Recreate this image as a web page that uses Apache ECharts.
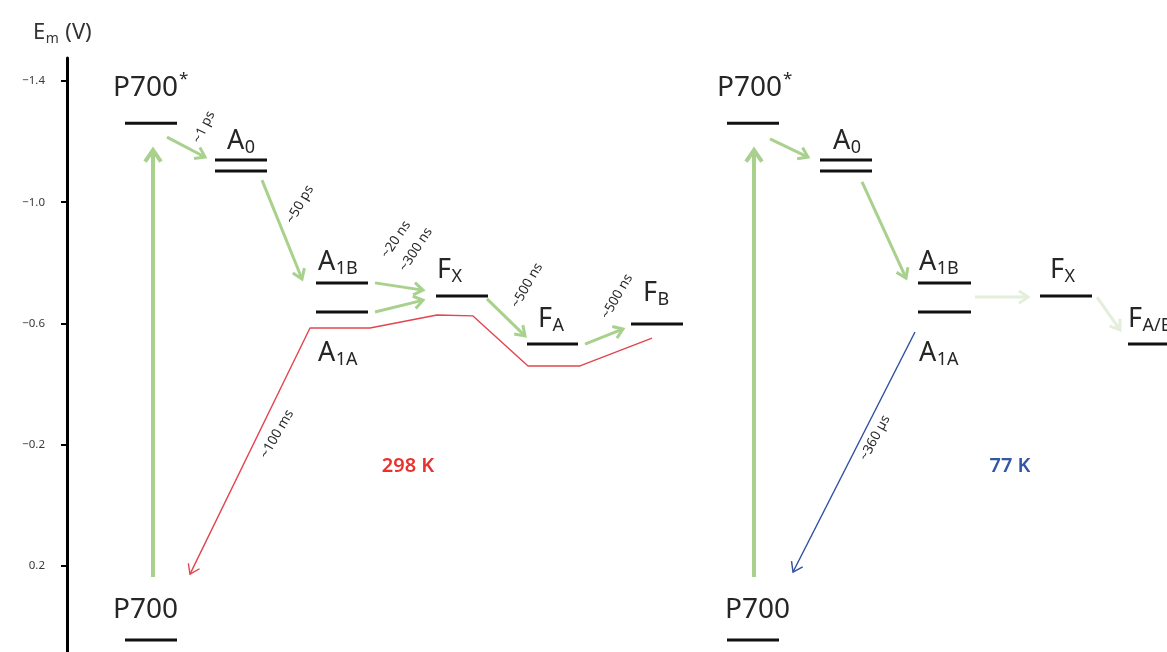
<!DOCTYPE html>
<html>
<head>
<meta charset="utf-8">
<script src="https://cdn.jsdelivr.net/npm/echarts@6/dist/echarts.min.js"></script>
<style>
  html, body { margin: 0; padding: 0; background: #fff; }
  #chart { width: 1167px; height: 652px; }
</style>
</head>
<body>
<div id="chart"></div>
<script>
// ---------- data ----------
// Em axis (V), drawn with negative potentials at the top
const emTicks = [-1.4, -1.0, -0.6, -0.2, 0.2];
const emTickLabels = ['\u22121.4', '\u22121.0', '\u22120.6', '\u22120.2', '0.2'];

// Redox levels: [xStart, xEnd, Em (V)]
const levels298 = [
  [58, 110, -1.261],   // P700*
  [148, 200, -1.139],  // A0
  [148, 200, -1.103],  // A0
  [249, 301, -0.734],  // A1B
  [249, 301, -0.638],  // A1A
  [369, 421, -0.691],  // FX
  [460, 511, -0.532],  // FA
  [564, 616, -0.598],  // FB
  [58, 110, 0.444]     // P700
];
const levelNames298 = [
  ['P700', '', '*'], ['A', '0', ''], null, ['A', '1B', ''], ['A', '1A', ''],
  ['F', 'X', ''], ['F', 'A', ''], ['F', 'B', ''], ['P700', '', '']
];

const levels77 = [
  [660, 712, -1.261],  // P700*
  [753, 805, -1.139],  // A0
  [753, 805, -1.103],  // A0
  [851, 904, -0.734],  // A1B
  [851, 904, -0.638],  // A1A
  [973, 1025, -0.691], // FX
  [1061, 1115, -0.532],// FA/B
  [660, 712, 0.444]    // P700
];
const levelNames77 = [
  ['P700', '', '*'], ['A', '0', ''], null, ['A', '1B', ''], ['A', '1A', ''],
  ['F', 'X', ''], ['F', 'A/B', ''], ['P700', '', '']
];

// Light excitation P700 -> P700*: [x0, Em0, x1, Em1]
const excitation = [
  [86, 0.236, 86, -1.172],
  [687, 0.236, 687, -1.172]
];

// Forward electron transfer steps: [x0, Em0, x1, Em1]
const forward298 = [
  [100, -1.215, 138, -1.149],  // P700* -> A0
  [195, -1.073, 235, -0.747],  // A0 -> A1
  [308, -0.734, 356, -0.710],  // A1B -> FX
  [308, -0.638, 356, -0.677],  // A1A -> FX
  [420, -0.681, 458, -0.559],  // FX -> FA
  [518, -0.532, 556, -0.582]   // FA -> FB
];
const forward77 = [
  [703, -1.209, 741, -1.149],  // P700* -> A0
  [795, -1.067, 839, -0.750]   // A0 -> A1
];
// Steps blocked at 77 K
const blocked77 = [
  [908, -0.687, 961, -0.687],  // A1 -> FX
  [1030, -0.687, 1053, -0.579] // FX -> FA/B
];

// Charge recombination back to P700
const recombination298 = [
  [585, -0.552], [513, -0.460], [461, -0.460], [406, -0.625],
  [370, -0.628], [303, -0.585], [243, -0.585], [123, 0.227]
];
const recombination77 = [[848, -0.572], [726, 0.220]];

// Time constants
const timeLabels = ['~1 ps', '~50 ps', '~20 ns', '~300 ns', '~500 ns', '~500 ns', '~100 ms', '~360 \u00b5s'];

// ---------- styling / layout ----------
const FONT = "'Noto Sans', 'Open Sans', sans-serif";
const GREEN = '#a9d18e';
const GREEN_FADED = '#e3eedb';
const RED = '#e2454f';
const BLUE = '#2f4f9f';
const INK = '#262626';
const MAIN_SIZE = 27, SUB_SIZE = 18, SUP_SIZE = 17;

// label baseline offsets (px) from the left end of each level
const nameOffsets298 = [[-12, -26], [12, -10], null, [2, -12], [2, 50], [1, -17], [11, -16], [12, -22], [-12, -21]];
const nameOffsets77 = [[-10, -26], [13, -10], null, [1, -12], [1, 50], [10, -17], [0, -16], [-2, -21]];

// time label placement: which step, pixel offset from its midpoint, rotation (deg)
const timeLabelPlacement = [
  { step: () => forward298[0], dx: 18, dy: -20, rot: 64 },
  { step: () => forward298[1], dx: 18, dy: -25, rot: 60 },
  { step: () => forward298[2], dx: -3, dy: -47, rot: 56 },
  { step: () => forward298[2], dx: 17, dy: -37, rot: 57 },
  { step: () => forward298[4], dx: 21, dy: -32, rot: 60 },
  { step: () => forward298[5], dx: 13, dy: -40, rot: 60 },
  { step: () => recombination298.slice(-2).flat(), dx: 27, dy: -17, rot: 60 },
  { step: () => recombination77.flat(), dx: 21, dy: -14, rot: 62 }
];

// ---------- drawing helpers ----------
function arrowGroup(p0, p1, color, width, head, headOnly) {
  const ang = Math.atan2(p1[1] - p0[1], p1[0] - p0[0]);
  const spread = Math.PI / 5.2;
  const h1 = [p1[0] - head * Math.cos(ang - spread), p1[1] - head * Math.sin(ang - spread)];
  const h2 = [p1[0] - head * Math.cos(ang + spread), p1[1] - head * Math.sin(ang + spread)];
  const children = [];
  if (!headOnly) {
    const tip = [p1[0] - Math.cos(ang) * width * 0.6, p1[1] - Math.sin(ang) * width * 0.6];
    children.push({ type: 'line', shape: { x1: p0[0], y1: p0[1], x2: tip[0], y2: tip[1] },
      style: { stroke: color, lineWidth: width, lineCap: 'butt' } });
  }
  children.push({ type: 'polyline', shape: { points: [h1, p1, h2] },
    style: { stroke: color, lineWidth: width, fill: null, lineJoin: 'miter', lineCap: 'butt' } });
  return { type: 'group', children };
}

function arrowSeries(data, color, width, head, headOnly) {
  return {
    type: 'custom',
    data: data,
    encode: { x: [0, 2], y: [1, 3] },
    silent: true,
    z: 3,
    renderItem: function (params, api) {
      const p0 = api.coord([api.value(0), api.value(1)]);
      const p1 = api.coord([api.value(2), api.value(3)]);
      return arrowGroup(p0, p1, color, width, head, headOnly);
    }
  };
}

const measureCtx = document.createElement('canvas').getContext('2d');
function textWidth(str, size) {
  measureCtx.font = size + 'px ' + FONT;
  return measureCtx.measureText(str).width;
}
// text placed by its alphabetic baseline
function textAt(str, x, baseline, size, color, extra) {
  return Object.assign({
    type: 'text', x: x, y: baseline - size * 0.33, silent: true, z: 10,
    style: { text: str, fontSize: size, fontFamily: FONT, fill: color, align: 'left', verticalAlign: 'middle' }
  }, extra || {});
}
function nameLabel(parts, x, baseline, mainSize) {
  const [main, sub, sup] = parts;
  const out = [textAt(main, x, baseline, mainSize, INK)];
  const w = textWidth(main, mainSize);
  if (sub) out.push(textAt(sub, x + w + 0.5, baseline + 4, SUB_SIZE, INK));
  if (sup) out.push(textAt(sup, x + w + 1, baseline - 12, SUP_SIZE, INK));
  return out;
}

// ---------- chart ----------
const chart = echarts.init(document.getElementById('chart'), null, { renderer: 'canvas' });

const option = {
  animation: false,
  backgroundColor: '#fff',
  grid: { left: 67, right: 0, top: 58, bottom: 0, containLabel: false, outerBoundsMode: 'none' },
  xAxis: { type: 'value', min: 0, max: 1100, show: false },
  yAxis: {
    type: 'value', inverse: true, min: -1.4759, max: 0.4838,
    axisLine: { show: true, lineStyle: { color: '#000', width: 3 } },
    axisTick: { show: true, inside: false, length: 6, customValues: emTicks, lineStyle: { color: '#000', width: 2 } },
    axisLabel: {
      customValues: emTicks, margin: 22, fontSize: 11.5, fontFamily: FONT, color: '#3a3a3a',
      formatter: function (v) {
        let best = 0;
        emTicks.forEach((t, i) => { if (Math.abs(t - v) < Math.abs(emTicks[best] - v)) best = i; });
        return emTickLabels[best];
      }
    },
    splitLine: { show: false }
  },
  series: [
    {
      type: 'custom',
      data: levels298.concat(levels77),
      encode: { x: [0, 1], y: 2 },
      silent: true,
      z: 4,
      renderItem: function (params, api) {
        const a = api.coord([api.value(0), api.value(2)]);
        const b = api.coord([api.value(1), api.value(2)]);
        return { type: 'line', shape: { x1: a[0], y1: a[1], x2: b[0], y2: b[1] },
          style: { stroke: '#111', lineWidth: 3, lineCap: 'butt' } };
      }
    },
    arrowSeries(excitation, GREEN, 4, 14, false),
    arrowSeries(forward298, GREEN, 3, 11, false),
    arrowSeries(forward77, GREEN, 3, 11, false),
    arrowSeries(blocked77, GREEN_FADED, 3, 11, false),
    {
      type: 'line',
      data: recombination298,
      symbol: 'none',
      silent: true,
      clip: false,
      z: 2,
      lineStyle: { color: RED, width: 1.4 }
    },
    arrowSeries([recombination298.slice(-2).flat()], RED, 1.4, 11, true),
    arrowSeries([recombination77.flat()], BLUE, 1.4, 11, false)
  ]
};
chart.setOption(option);

// ---------- text ----------
const toPx = (x, e) => chart.convertToPixel({ xAxisIndex: 0, yAxisIndex: 0 }, [x, e]);
const graphics = [];

function addNames(levels, names, offsets) {
  levels.forEach((lv, i) => {
    if (!names[i]) return;
    const p = toPx(lv[0], lv[2]);
    const size = names[i][0] === 'P700' ? 28 : MAIN_SIZE;
    nameLabel(names[i], p[0] + offsets[i][0], p[1] + offsets[i][1], size).forEach(g => graphics.push(g));
  });
}
addNames(levels298, levelNames298, nameOffsets298);
addNames(levels77, levelNames77, nameOffsets77);

timeLabels.forEach((label, i) => {
  const pl = timeLabelPlacement[i];
  const s = pl.step();
  const a = toPx(s[0], s[1]);
  const b = toPx(s[2], s[3]);
  graphics.push({
    type: 'text', silent: true, z: 10,
    x: (a[0] + b[0]) / 2 + pl.dx, y: (a[1] + b[1]) / 2 + pl.dy,
    rotation: pl.rot * Math.PI / 180,
    style: { text: label, fontSize: 13.5, fontFamily: FONT, fill: '#2a2a2a', align: 'center', verticalAlign: 'middle' }
  });
});

// temperature tags
const tag298 = toPx(341, -0.129);
const tag77 = toPx(943, -0.129);
graphics.push({ type: 'text', silent: true, z: 10, x: tag298[0], y: tag298[1],
  style: { text: '298 K', fontSize: 20, fontWeight: 600, fontFamily: FONT, fill: '#e8322f', align: 'center', verticalAlign: 'middle' } });
graphics.push({ type: 'text', silent: true, z: 10, x: tag77[0], y: tag77[1],
  style: { text: '77 K', fontSize: 20, fontWeight: 600, fontFamily: FONT, fill: '#3157a6', align: 'center', verticalAlign: 'middle' } });

// axis title: Em (V)
const eW = textWidth('E', 22);
graphics.push(textAt('E', 33, 40, 22, '#333'));
graphics.push(textAt('m', 33 + eW + 0.5, 44, 14, '#333'));
graphics.push(textAt('(V)', 33 + eW + textWidth('m', 14) + 7, 40, 22, '#333'));

chart.setOption({ graphic: graphics });
</script>
</body>
</html>
